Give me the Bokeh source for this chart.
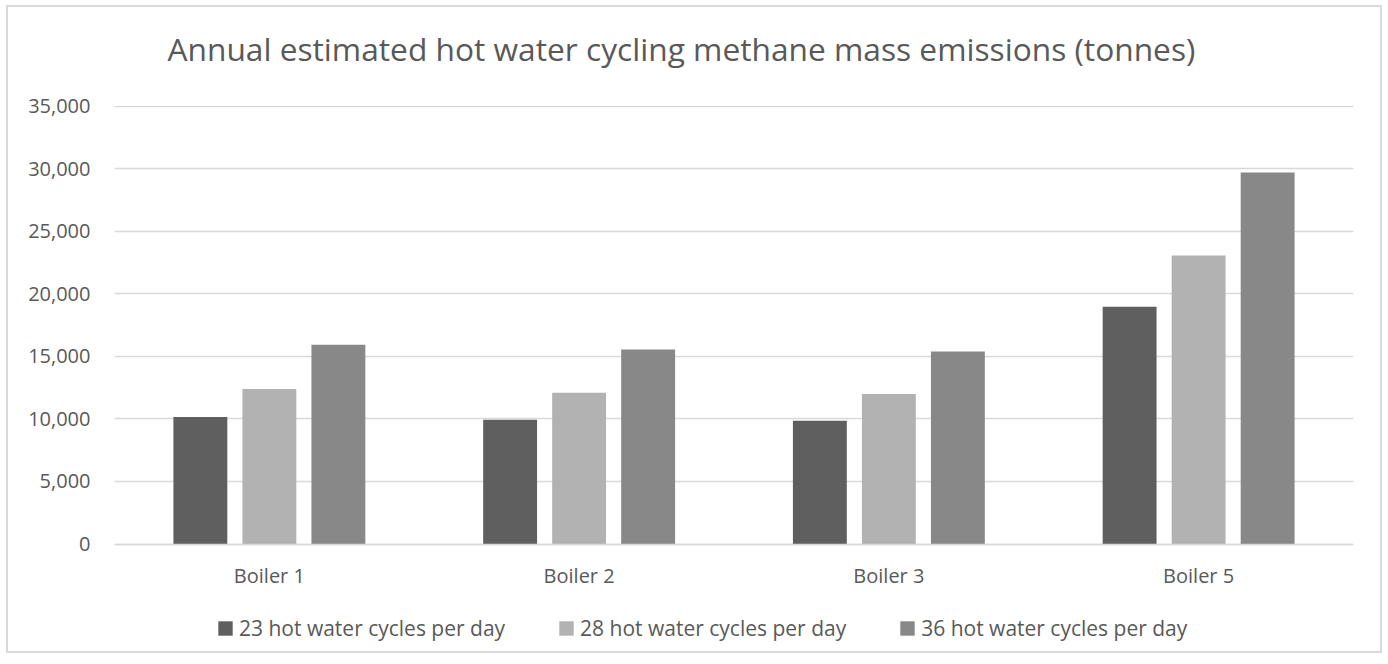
from bokeh.plotting import figure
from bokeh.models import (ColumnDataSource, FactorRange, Range1d, FixedTicker,
                          NumeralTickFormatter, Legend, LegendItem, Title)
from bokeh.transform import dodge
from bokeh.embed import file_html
from bokeh.resources import INLINE

title_text = "Annual estimated hot water cycling methane mass emissions (tonnes)"
boilers = ["Boiler 1", "Boiler 2", "Boiler 3", "Boiler 5"]
series_names = ["23 hot water cycles per day", "28 hot water cycles per day",
                "36 hot water cycles per day"]
cycles_23 = [10160, 9940, 9860, 18970]
cycles_28 = [12400, 12100, 12000, 23070]
cycles_36 = [15940, 15560, 15400, 29700]
y_ticks = [0, 5000, 10000, 15000, 20000, 25000, 30000, 35000]
colors = ["#5f5f5f", "#b2b2b2", "#888888"]

FONT = "Open Sans"
TXT = "#595959"

src = ColumnDataSource(dict(boiler=boilers, s23=cycles_23, s28=cycles_28, s36=cycles_36))

# the frame reaches down to the legend row; value 0 sits where the category axis is
p = figure(x_range=FactorRange(factors=boilers, range_padding=0),
           y_range=Range1d(-8276, 35064),
           width=1376, height=648,
           min_border_left=106, min_border_right=31,
           min_border_top=98, min_border_bottom=8,
           output_backend="svg", toolbar_location=None)
p.outline_line_color = None
p.margin = (5, 0, 0, 6)
p.styles = {"border": "2px solid #d9d9d9"}

offsets = [-0.2228, 0.0, 0.2228]
cols = ["s23", "s28", "s36"]
renderers = []
for off, c, col in zip(offsets, cols, colors):
    r = p.vbar(x=dodge("boiler", off, range=p.x_range), top=c, width=0.174,
               source=src, fill_color=col, line_color=None)
    renderers.append(r)

# axes
p.yaxis.ticker = FixedTicker(ticks=y_ticks)
p.yaxis.formatter = NumeralTickFormatter(format="0,0")
p.yaxis.axis_line_color = None
p.yaxis.major_tick_line_color = None
p.yaxis.minor_tick_line_color = None
p.yaxis.major_tick_out = 0
p.yaxis.major_tick_in = 0
p.yaxis.major_label_standoff = 24
p.yaxis.major_label_text_font = FONT
p.yaxis.major_label_text_font_size = "20px"
p.yaxis.major_label_text_color = TXT

p.xaxis.fixed_location = 0
p.xaxis.axis_line_color = "#d9d9d9"
p.xaxis.axis_line_width = 1.5
p.xaxis.major_tick_line_color = None
p.xaxis.minor_tick_line_color = None
p.xaxis.major_tick_out = 0
p.xaxis.major_tick_in = 0
p.xaxis.major_label_standoff = 18
p.xaxis.major_label_text_font = FONT
p.xaxis.major_label_text_font_size = "20px"
p.xaxis.major_label_text_color = TXT

p.xgrid.grid_line_color = None
p.ygrid.grid_line_color = "#d9d9d9"
p.ygrid.grid_line_width = 1.5

legend = Legend(items=[LegendItem(label=n, renderers=[r]) for n, r in zip(series_names, renderers)],
                orientation="horizontal", location=(102, 5),
                glyph_width=18, glyph_height=18, label_standoff=5, spacing=52,
                label_text_font=FONT, label_text_font_size="21px", label_text_color=TXT,
                border_line_color=None, background_fill_alpha=0, padding=0, margin=0)
p.add_layout(legend, "center")

# real title is outermost; a blank spacer title sits between it and the frame
p.title = Title(text=title_text, align="left", offset=53, standoff=32,
                text_font=FONT, text_font_size="31.7px", text_color=TXT,
                text_font_style="normal")
p.add_layout(Title(text=" ", text_font_size="16.5px", standoff=0), "above")

open("out.html", "w").write(file_html(p, INLINE))
